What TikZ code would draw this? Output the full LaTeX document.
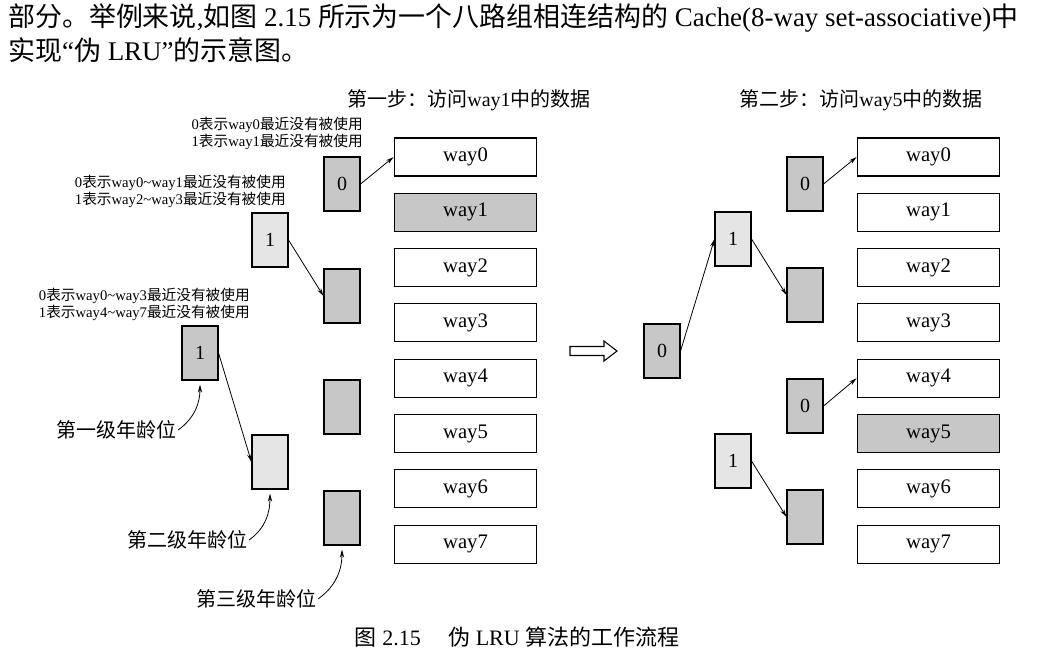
\documentclass[tikz,border=0pt]{standalone}
\usepackage{fontspec}
\setmainfont{Liberation Serif}
\newfontfamily\cjk{Noto Sans CJK SC}
\newcommand{\zh}[1]{{\cjk #1}}
\usetikzlibrary{arrows.meta}

\definecolor{bitgray}{gray}{0.78}
\definecolor{bitlight}{gray}{0.9}

\begin{document}
\begin{tikzpicture}[x=0.75pt, y=-0.75pt, >={Stealth[length=6pt, width=3.2pt]},
    way/.style={draw, line width=0.8pt, minimum width=107pt, minimum height=28.5pt,
        inner sep=0pt, font=\fontsize{15.5}{18}\selectfont},
    hit/.style={way, fill=bitgray},
    bit/.style={draw, line width=0.8pt, fill=bitgray, minimum width=27pt,
        minimum height=40.5pt, inner sep=0pt, font=\fontsize{15}{18}\selectfont},
    lightbit/.style={bit, fill=bitlight},
    note/.style={anchor=east, align=right, inner sep=0pt, font=\fontsize{11}{12.75}\selectfont},
    title/.style={inner sep=0pt, font=\fontsize{15}{18}\selectfont},
    level/.style={anchor=east, inner sep=1pt, font=\fontsize{15}{18}\selectfont},
    body/.style={anchor=west, inner sep=0pt, font=\fontsize{20.2}{24}\selectfont},
    link/.style={->, line width=0.6pt},
    callout/.style={->, line width=0.6pt, shorten >=3pt}
]
\useasboundingbox (0,0) rectangle (1044,669);

% Running text above the figure
\node[body] (line1) at (8,18) {\zh{部分。举例来说},\zh{如图} 2.15 \zh{所示为一个八路组相连结构的} Cache(8-way set-associative)\zh{中}};
\node[body] (line2) at (8,50) {\zh{实现}“\zh{伪} LRU”\zh{的示意图。}};

% Step titles
\node[title] (title1) at (469,100) {\zh{第一步：访问}way1\zh{中的数据}};
\node[title] (title2) at (861,100) {\zh{第二步：访问}way5\zh{中的数据}};

% The eight ways of the set, first and second step
\foreach \i/\s in {0/way,1/hit,2/way,3/way,4/way,5/way,6/way,7/way}
    \node[\s] (lw\i) at (465.5,157+55.3*\i) {way\i};
\foreach \i/\s in {0/way,1/way,2/way,3/way,4/way,5/hit,6/way,7/way}
    \node[\s] (rw\i) at (928.5,157+55.3*\i) {way\i};

% Age bits, first step
\node[bit] (l1) at (200,353) {1};
\node[lightbit] (l2a) at (270,240) {1};
\node[lightbit] (l2b) at (270,462) {};
\node[bit] (l3a) at (342,184) {0};
\node[bit] (l3b) at (342,296) {};
\node[bit] (l3c) at (342,407) {};
\node[bit] (l3d) at (342,518) {};

% Age bits, second step
\node[bit] (r1) at (662,351) {0};
\node[lightbit] (r2a) at (733,239) {1};
\node[lightbit] (r2b) at (733,461) {1};
\node[bit] (r3a) at (805,184) {0};
\node[bit] (r3b) at (805,295) {};
\node[bit] (r3c) at (805,406) {0};
\node[bit] (r3d) at (805,517) {};

% Pointers
\draw[link] (l3a.east) -- (lw0.west);
\draw[link] (l2a.east) -- (l3b.west);
\draw[link] (l1.east) -- (l2b.west);
\draw[link] (r1.east) -- (r2a.west);
\draw[link] (r2a.east) -- (r3b.west);
\draw[link] (r3a.east) -- (rw0.west);
\draw[link] (r3c.east) -- (rw4.west);
\draw[link] (r2b.east) -- (r3d.west);

% Meaning of the bits
\node[note] (note3) at (363,133) {0\zh{表示}way0\zh{最近没有被使用}\\1\zh{表示}way1\zh{最近没有被使用}};
\node[note] (note2) at (286,191) {0\zh{表示}way0\textasciitilde way1\zh{最近没有被使用}\\1\zh{表示}way2\textasciitilde way3\zh{最近没有被使用}};
\node[note] (note1) at (250,304) {0\zh{表示}way0\textasciitilde way3\zh{最近没有被使用}\\1\zh{表示}way4\textasciitilde way7\zh{最近没有被使用}};

% Level labels
\node[level] (lev1) at (178,430) {\zh{第一级年龄位}};
\node[level] (lev2) at (249,540) {\zh{第二级年龄位}};
\node[level] (lev3) at (318,599) {\zh{第三级年龄位}};
\draw[callout] (lev1.east) to[out=35, in=-90] (l1.south);
\draw[callout] (lev2.east) to[out=35, in=-90] (l2b.south);
\draw[callout] (lev3.east) to[out=35, in=-90] (l3d.south);

% From step one to step two
\draw[line width=0.8pt, fill=white] (570,346.5) -- (604,346.5) -- (604,341) -- (617,351)
    -- (604,361) -- (604,355.5) -- (570,355.5) -- cycle;

% Caption
\node[title, font=\fontsize{16.5}{20}\selectfont] (caption) at (517,637) {\zh{图} 2.15\quad\ \zh{伪} LRU \zh{算法的工作流程}};

\end{tikzpicture}
\end{document}
